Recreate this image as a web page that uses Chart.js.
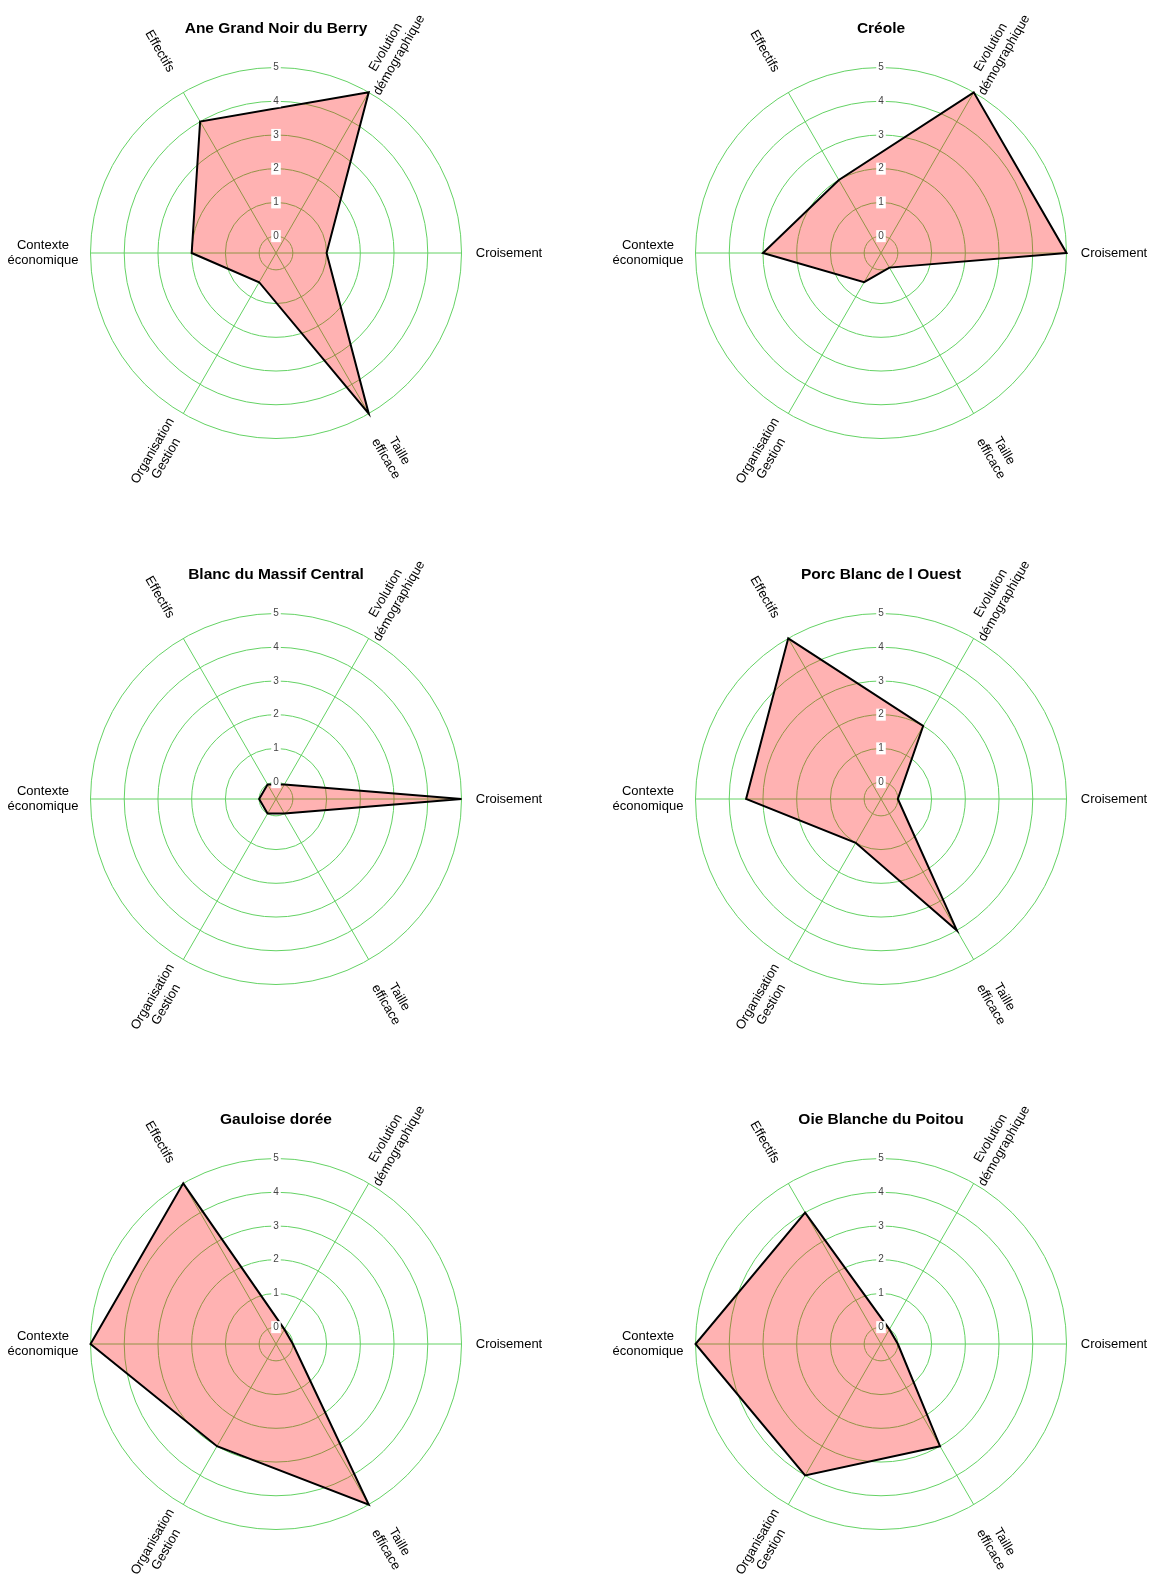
<!DOCTYPE html>
<html>
<head>
<meta charset="utf-8">
<script src="https://cdn.jsdelivr.net/npm/chart.js@4/dist/chart.umd.min.js"></script>
<style>
  html, body { margin: 0; padding: 0; background: #fff; }
  body { width: 1150px; height: 1578px; position: relative; overflow: hidden; }
  canvas { position: absolute; }
</style>
</head>
<body>
<canvas id="c0" width="600" height="546" style="left:-24px;top:-20px"></canvas>
<canvas id="c1" width="600" height="546" style="left:581px;top:-20px"></canvas>
<canvas id="c2" width="600" height="546" style="left:-24px;top:526px"></canvas>
<canvas id="c3" width="600" height="546" style="left:581px;top:526px"></canvas>
<canvas id="c4" width="600" height="546" style="left:-24px;top:1071px"></canvas>
<canvas id="c5" width="600" height="546" style="left:581px;top:1071px"></canvas>
<script>
// Axes, clockwise starting from the right-hand side
const axisLabels = [
    ['Croisement'],
    ['Taille', 'efficace'],
    ['Organisation', 'Gestion'],
    ['Contexte', 'économique'],
    ['Effectifs'],
    ['Evolution', 'démographique']
];
const tickValues = [0, 1, 2, 3, 4, 5];

const titles = [
    'Ane Grand Noir du Berry',
    'Créole',
    'Blanc du Massif Central',
    'Porc Blanc de l Ouest',
    'Gauloise dorée',
    'Oie Blanche du Poitou'
];

// Scores, same order as axisLabels
const aneGrandNoir = [1, 5, 0.5, 2, 4, 5];
const creole = [5, 0, 0.5, 3, 2, 5];
const blancMassif = [5, 0, 0, 0, 0, 0];
const porcBlanc = [0, 4, 1, 3.5, 5, 2];
const gauloise = [0, 5, 3, 5, 5, 0];
const oieBlanche = [0, 3, 4, 5, 4, 0];

const series = [aneGrandNoir, creole, blancMassif, porcBlanc, gauloise, oieBlanche];

const GRID = 'rgb(100, 210, 100)';
const FONT = '"Liberation Sans", Arial, sans-serif';

// Rotated axis labels, tick labels and title
const radarText = {
    id: 'radarText',
    afterDatasetsDraw(chart, args, opts) {
        const ctx = chart.ctx;
        const r = chart.scales.r;
        ctx.save();

        // tick labels with white backdrop
        ctx.font = '10px ' + FONT;
        ctx.textAlign = 'center';
        ctx.textBaseline = 'middle';
        tickValues.forEach(v => {
            const y = r.yCenter - r.getDistanceFromCenterForValue(v);
            const w = ctx.measureText(String(v)).width + 4;
            ctx.fillStyle = '#fff';
            ctx.fillRect(r.xCenter - w / 2, y - 6, w, 12);
            ctx.fillStyle = '#444';
            ctx.fillText(String(v), r.xCenter, y);
        });

        // axis labels
        ctx.font = '13px ' + FONT;
        ctx.fillStyle = '#000';
        axisLabels.forEach((lines, i) => {
            const pos = r.getPointPosition(i, 233);
            let rot = pos.angle;
            while (rot > Math.PI / 2 + 0.01) rot -= Math.PI;
            while (rot < -Math.PI / 2 + 0.01) rot += Math.PI;
            ctx.save();
            ctx.translate(pos.x, pos.y);
            ctx.rotate(rot);
            lines.forEach((line, j) => {
                ctx.fillText(line, 0, (j - (lines.length - 1) / 2) * 15.5);
            });
            ctx.restore();
        });

        // title
        ctx.font = 'bold 15.5px ' + FONT;
        ctx.fillText(opts.text, r.xCenter, r.yCenter - 224);
        ctx.restore();
    }
};

series.forEach((values, k) => {
    new Chart(document.getElementById('c' + k), {
        type: 'radar',
        data: {
            labels: axisLabels,
            datasets: [{
                data: values,
                backgroundColor: 'rgba(255, 0, 0, 0.3)',
                borderColor: '#000',
                borderWidth: 2,
                pointRadius: 0,
                tension: 0,
                fill: 'start'
            }]
        },
        options: {
            responsive: false,
            animation: false,
            devicePixelRatio: 1,
            plugins: {
                legend: { display: false },
                tooltip: { enabled: false },
                radarText: { text: titles[k] }
            },
            scales: {
                r: {
                    min: -0.5,
                    max: 5,
                    startAngle: 90,
                    afterBuildTicks: (scale) => {
                        scale.ticks = tickValues.map(v => ({ value: v }));
                    },
                    afterFit: (scale) => {
                        scale.xCenter = 300;
                        scale.yCenter = 273;
                        scale.drawingArea = 185.5;
                    },
                    ticks: { display: false },
                    pointLabels: { display: false },
                    grid: { circular: true, color: GRID, lineWidth: 1 },
                    angleLines: { color: GRID, lineWidth: 1 }
                }
            }
        },
        plugins: [radarText]
    });
});
</script>
</body>
</html>
